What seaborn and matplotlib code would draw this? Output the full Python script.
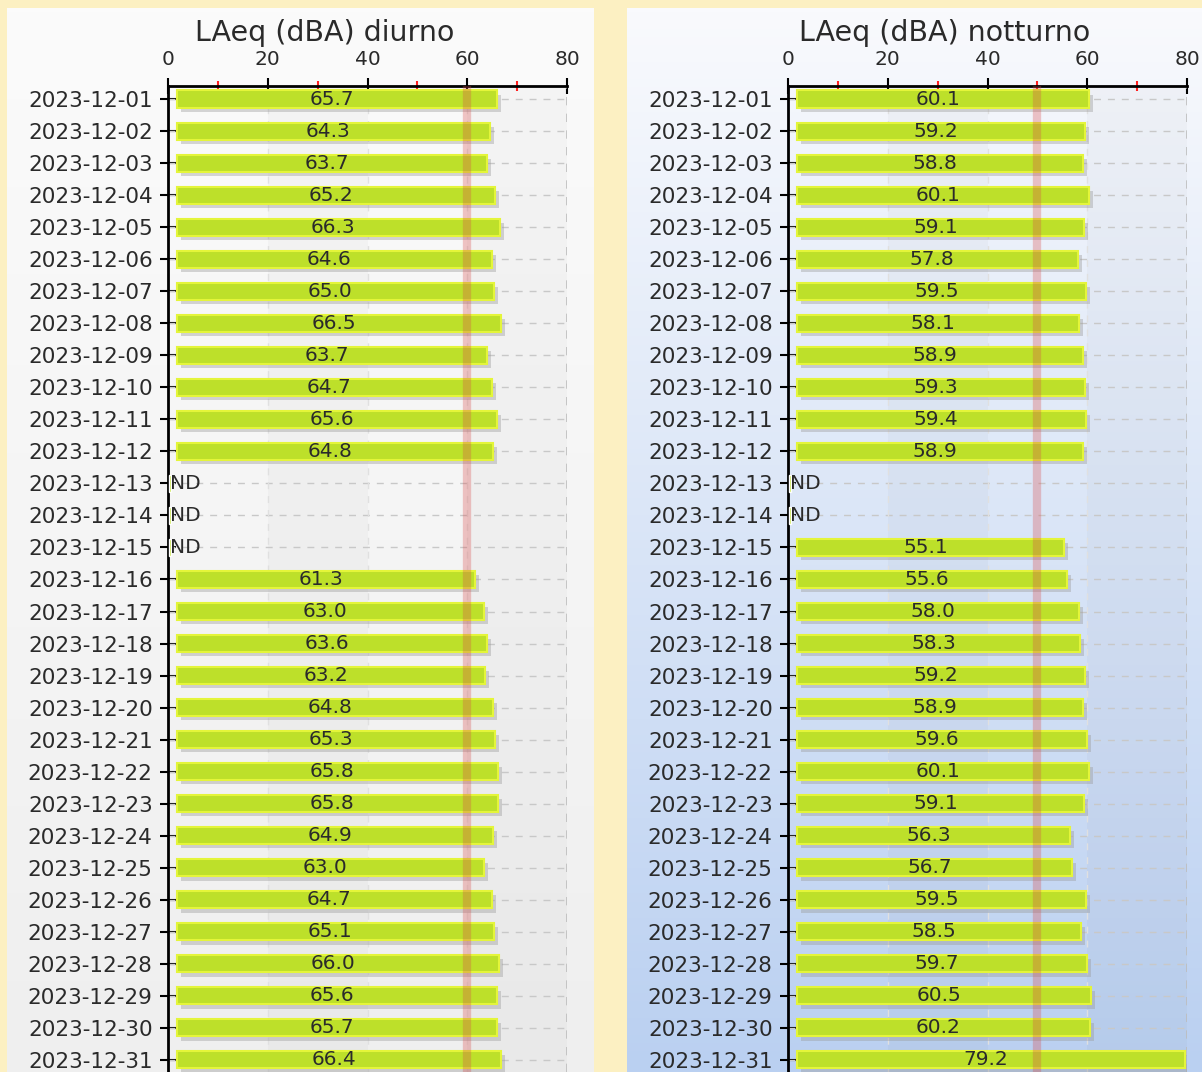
import numpy as np
import pandas as pd
import matplotlib
matplotlib.use("Agg")
import matplotlib.pyplot as plt
import matplotlib.patheffects as pe
from matplotlib.colors import LinearSegmentedColormap
import seaborn as sns

# dati giornalieri (NaN = ND)
giorni = [f"2023-12-{d:02d}" for d in range(1, 32)]
diurno = [65.7, 64.3, 63.7, 65.2, 66.3, 64.6, 65.0, 66.5, 63.7, 64.7, 65.6, 64.8,
          np.nan, np.nan, np.nan, 61.3, 63.0, 63.6, 63.2, 64.8, 65.3, 65.8, 65.8,
          64.9, 63.0, 64.7, 65.1, 66.0, 65.6, 65.7, 66.4]
notturno = [60.1, 59.2, 58.8, 60.1, 59.1, 57.8, 59.5, 58.1, 58.9, 59.3, 59.4, 58.9,
            np.nan, np.nan, 55.1, 55.6, 58.0, 58.3, 59.2, 58.9, 59.6, 60.1, 59.1,
            56.3, 56.7, 59.5, 58.5, 59.7, 60.5, 60.2, 79.2]
limiti = {"diurno": 60, "notturno": 50}
titoli = {"diurno": "LAeq (dBA) diurno", "notturno": "LAeq (dBA) notturno"}

df = pd.DataFrame({"data": giorni, "diurno": diurno, "notturno": notturno})

sns.set_style("white")
plt.rcParams["font.family"] = ["DejaVu Sans"]

W, H = 1202, 1072
fig = plt.figure(figsize=(W / 100, H / 100), dpi=100, facecolor="#fcf0c2")

# sfondo dei due pannelli (gradiente)
bg = fig.add_axes([0, 0, 1, 1], zorder=-5)
bg.set_xlim(0, W)
bg.set_ylim(H, 0)
bg.axis("off")
grad = np.linspace(0, 1, 256)[:, None]
cm_l = LinearSegmentedColormap.from_list("l", ["#fbfbfb", "#efefef"])
cm_r = LinearSegmentedColormap.from_list("r", ["#f9fafd", "#bad0f1"])
bg.imshow(grad, cmap=cm_l, extent=(7, 594, H, 8), aspect="auto")
bg.imshow(grad, cmap=cm_r, extent=(627, W, H, 8), aspect="auto")

BAR = "#bde02a"
EDGE = "#e4f53a"
TXT = "#2a2a2a"
PAD = 1.8  # rientro delle barre dall'asse

pannelli = [("diurno", 168), ("notturno", 788)]
for col, x0 in pannelli:
    ax = fig.add_axes([x0 / W, 0, 399 / W, (H - 86) / H])
    ax.set_facecolor("none")
    sns.barplot(data=df, x=col, y="data", orient="h", order=giorni, color=BAR,
                errorbar=None, width=0.54, saturation=1, ax=ax, zorder=3,
                edgecolor=EDGE, linewidth=1.5)
    for p in ax.patches:
        w = p.get_width()
        if np.isfinite(w):
            p.set_x(PAD)
            p.set_width(w - PAD + 0.3)
        p.set_path_effects([pe.SimplePatchShadow(offset=(3, -3), shadow_rgbFace="#9a9a9a", alpha=0.4),
                            pe.Normal()])
    vals = df[col].to_numpy()
    for i, v in enumerate(vals):
        if np.isnan(v):
            ax.barh(i, 0.35, left=0.2, height=0.54, color=BAR, zorder=3)
            ax.text(0.5, i, "ND", ha="left", va="center", fontsize=14.5, color=TXT, zorder=4)
        else:
            ax.text(v / 2, i, f"{v:.1f}", ha="center", va="center", fontsize=14.5,
                    color=TXT, zorder=4)

    ax.set_xlim(0, 80)
    ax.set_ylim(30.38, -0.41)
    # bande alterne e griglia
    for a, b in [(20, 40), (60, 80)]:
        ax.axvspan(a, b, color="black", alpha=0.022, zorder=0, lw=0)
    for i in range(len(giorni)):
        ax.axhline(i, color="#c8c8c8", lw=1, ls=(0, (5, 5)), zorder=1)
    for xv in [20, 40, 60]:
        ax.axvline(xv, color="#e0e0e0", lw=1, ls=(0, (5, 5)), zorder=1)
    ax.axvline(80, color="#bdbdbd", lw=1.2, ls=(0, (5, 5)), zorder=1)
    ax.axvline(limiti[col], color="#d84848", alpha=0.3, lw=6, zorder=5)

    ax.xaxis.tick_top()
    ax.set_xticks([0, 20, 40, 60, 80])
    ax.set_xticks([10, 30, 50, 70], minor=True)
    ax.tick_params(axis="x", which="major", direction="inout", length=11, width=1.5,
                   color="black", labelsize=14.5, labelcolor=TXT, pad=7)
    ax.tick_params(axis="x", which="minor", direction="inout", length=7, width=1.5,
                   color="#ff2020")
    ax.tick_params(axis="y", direction="inout", length=12, width=1.5, color="black",
                   labelsize=15.5, labelcolor=TXT, pad=5, left=True)
    for s in ["right", "bottom"]:
        ax.spines[s].set_visible(False)
    for s in ["top", "left"]:
        ax.spines[s].set_color("black")
        ax.spines[s].set_linewidth(2)
    ax.set_xlabel("")
    ax.set_ylabel("")
    # titolo centrato sull'intero grafico (etichette comprese)
    ax.text(0.5 - 43 / 399, 1 + 53 / (H - 86), titoli[col], transform=ax.transAxes,
            ha="center", va="center", fontsize=20.5, color=TXT)

fig.savefig("out.png", dpi=100, facecolor=fig.get_facecolor())
